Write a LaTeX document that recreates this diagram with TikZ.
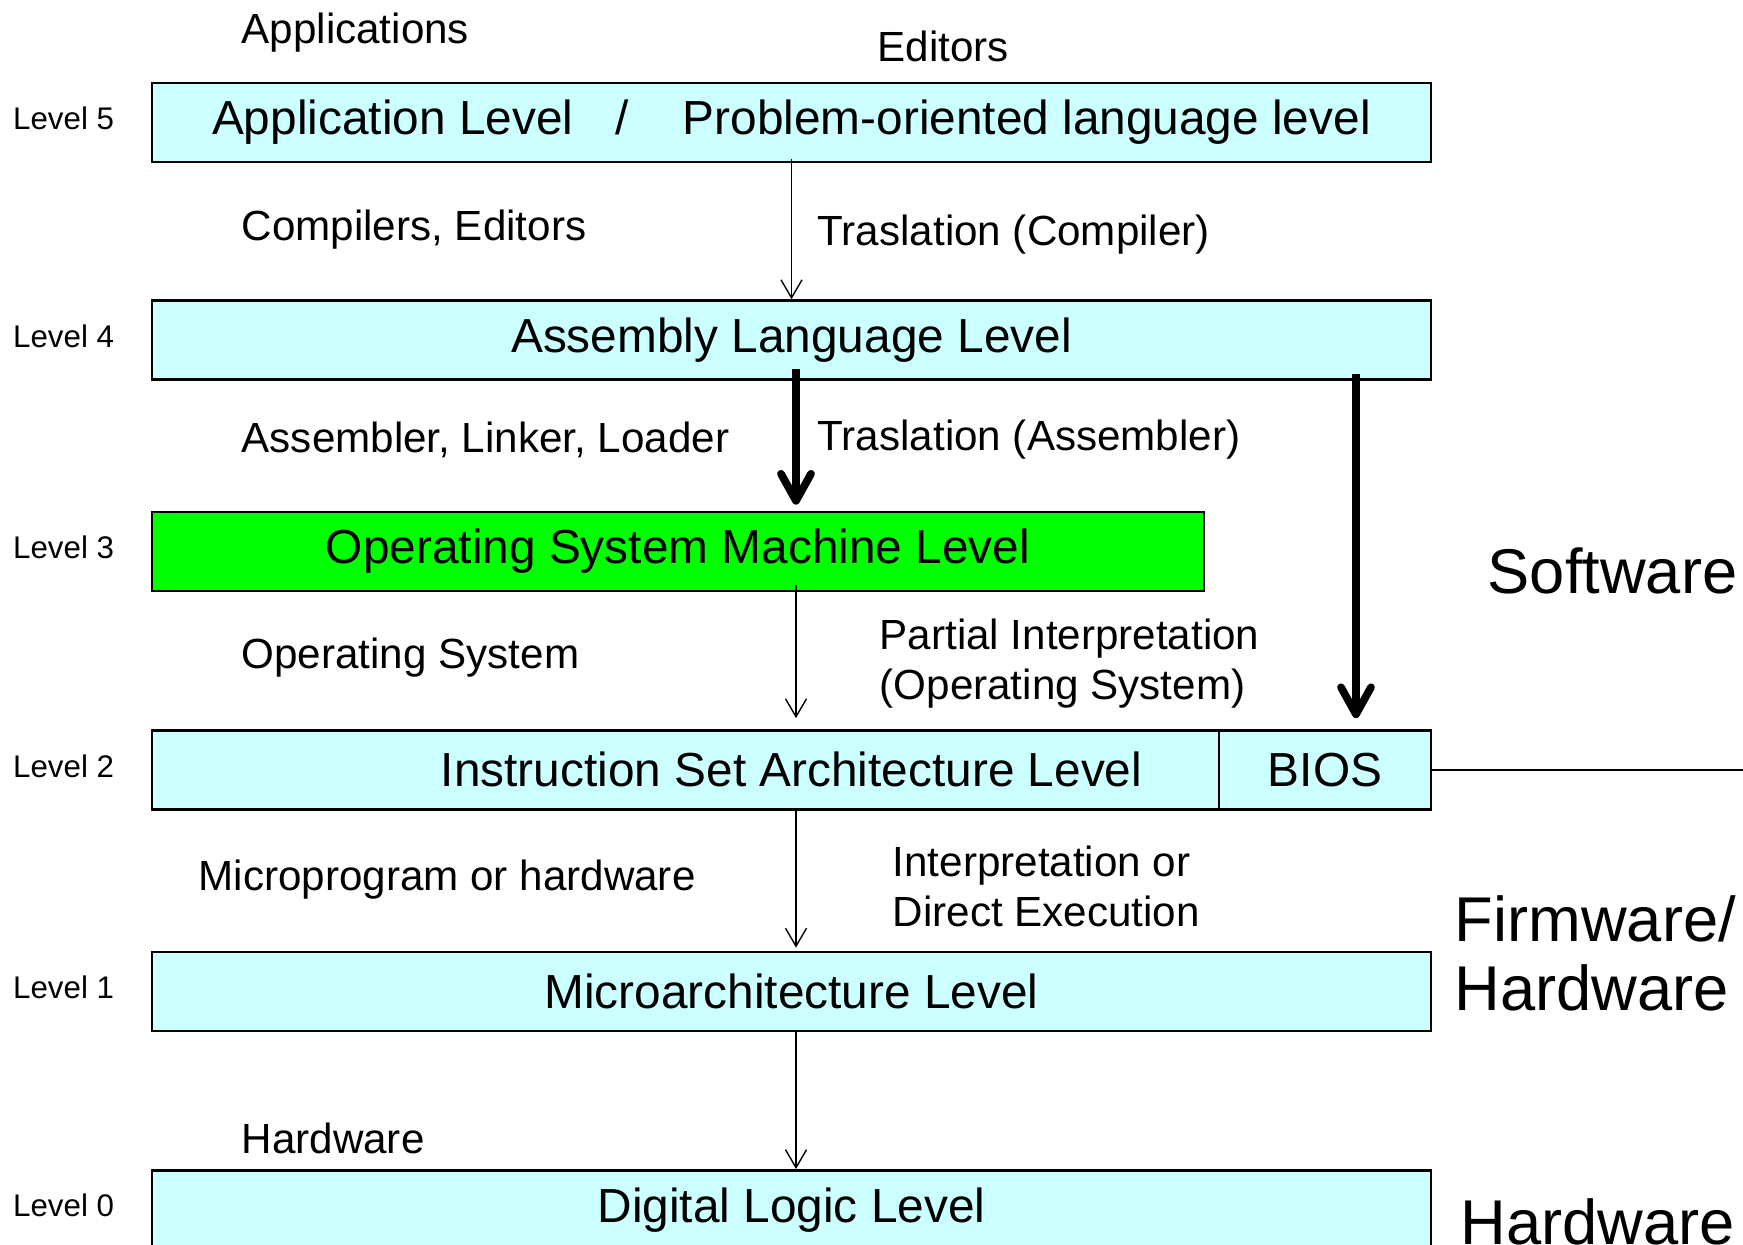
\documentclass[tikz,border=0pt]{standalone}
\usepackage{fontspec}
\setmainfont{Liberation Sans}
\usepackage{xcolor}
\usetikzlibrary{arrows.meta, positioning, calc}

\definecolor{levelcyan}{HTML}{CCFFFF}
\definecolor{osgreen}{HTML}{00FF00}

\tikzset{
    levelbox/.style={
        rectangle,
        draw=black,
        line width=0.7pt,
        minimum width=12.79cm,
        minimum height=0.79cm,
        fill=levelcyan,
        inner sep=0pt,
        font=\fontsize{13.6}{16}\selectfont
    },
    levellabel/.style={
        inner sep=0pt,
        yshift=0.04cm,
        font=\fontsize{8.9}{10.5}\selectfont
    },
    steplabel/.style={
        anchor=west,
        inner sep=0pt,
        align=left,
        font=\fontsize{12}{14.2}\selectfont
    },
    sidelabel/.style={
        anchor=west,
        inner sep=0pt,
        align=left,
        font=\fontsize{18}{19.6}\selectfont
    },
    thinarrow/.style={
        draw=black,
        line width=0.4pt,
        -{Straight Barb[length=1.8mm, width=2.1mm]}
    },
    thickarrow/.style={
        draw=black,
        line width=2.2pt,
        -{Straight Barb[length=2.7mm, width=3mm, round]}
    }
}

\begin{document}
\begin{tikzpicture}

\useasboundingbox (0,0) rectangle (17.43,-12.45);

% the six levels
\node[levelbox] (l5) at (7.915,-1.225) {Application Level\hspace{0.42cm}/\hspace{0.54cm}Problem-oriented language level};
\node[levelbox, below=1.36cm of l5] (l4) {Assembly Language Level};
\node[levelbox, fill=osgreen, minimum width=10.52cm, anchor=north west] (l3) at ([yshift=-1.30cm]l4.south west) {Operating System Machine Level};
\node[levelbox, anchor=north west] (l2) at ([yshift=-1.37cm]l3.south west) {Instruction Set Architecture Level};
\node[levelbox, minimum width=2.12cm, anchor=east] (bios) at (l2.east) {BIOS};
\node[levelbox, below=1.40cm of l2] (l1) {Microarchitecture Level};
\node[levelbox, below=1.37cm of l1] (l0) {Digital Logic Level};

\node[levellabel, left=0.36cm of l5] {Level 5};
\node[levellabel, left=0.36cm of l4] {Level 4};
\node[levellabel, left=0.36cm of l3] {Level 3};
\node[levellabel, left=0.36cm of l2] {Level 2};
\node[levellabel, left=0.36cm of l1] {Level 1};
\node[levellabel, left=0.36cm of l0] {Level 0};

% what runs between the levels
\node[steplabel] (apps) at (2.41,-0.33) {Applications};
\node[steplabel] (edit) at (8.77,-0.46) {Editors};
\node[steplabel] (comp) at (2.41,-2.30) {Compilers, Editors};
\node[steplabel] (trcomp) at (8.17,-2.35) {Traslation (Compiler)};
\node[steplabel] (asm) at (2.41,-4.40) {Assembler, Linker, Loader};
\node[steplabel] (trasm) at (8.17,-4.40) {Traslation (Assembler)};
\node[steplabel] (os) at (2.41,-6.58) {Operating System};
\node[steplabel] (partial) at (8.79,-6.64) {Partial Interpretation\\(Operating System)};
\node[steplabel] (micro) at (1.98,-8.80) {Microprogram or hardware};
\node[steplabel] (interp) at (8.92,-8.86) {Interpretation or\\Direct Execution};
\node[steplabel] (hw) at (2.41,-11.38) {Hardware};

\node[sidelabel] (sw) at (14.87,-5.71) {Software};
\node[sidelabel] (fw) at (14.54,-9.53) {Firmware/\\Hardware};
\node[sidelabel] (hwside) at (14.60,-12.22) {Hardware};

% arrows
\coordinate (axis) at (7.96,0);
\coordinate (rim) at (17.43,0);

\draw[thinarrow] ($(l5.south)+(0,0.04)$) -- (l4.north);
\draw[thickarrow] ($(l4.south -| axis)+(0,0.12)$) -- ($(l3.north -| axis)+(0,0.06)$);
\draw[thickarrow] ($(l4.south -| bios.north)+(0.31,0.07)$) -- ($(bios.north)+(0.31,0.11)$);
\draw[thinarrow] ($(l3.south -| axis)+(0,0.07)$) -- ($(l2.north -| axis)+(0,0.11)$);
\draw[thinarrow] (l2.south -| axis) -- ($(l1.north -| axis)+(0,0.03)$);
\draw[thinarrow] (l1.south -| axis) -- (l0.north -| axis);

\draw[line width=0.4pt] (bios.east) -- (bios.east -| rim);

\end{tikzpicture}
\end{document}
